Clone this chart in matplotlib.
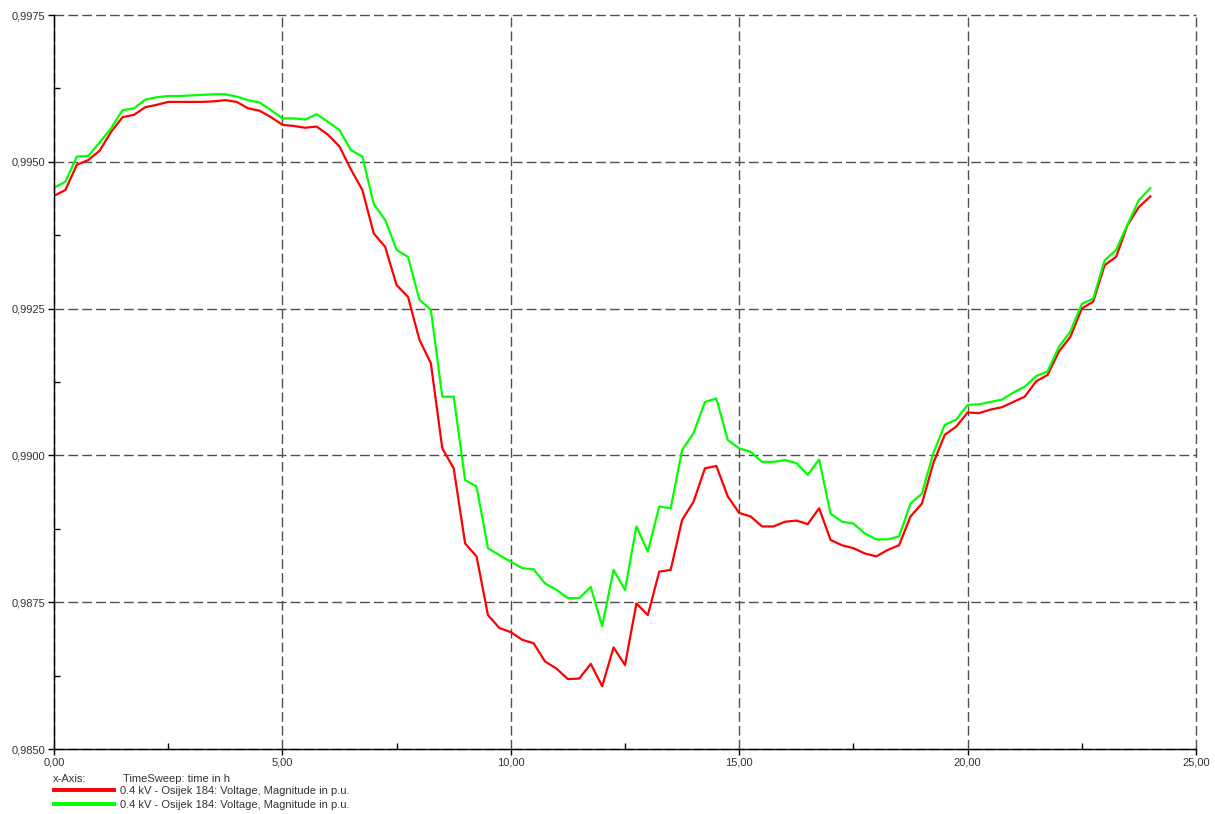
import numpy as np
import matplotlib
matplotlib.use("Agg")
import matplotlib.pyplot as plt
from matplotlib.ticker import MultipleLocator, FuncFormatter

# time in h, 15 min steps
hours = np.arange(0, 24.01, 0.25)

u_red = [
    0.99442, 0.99452, 0.99495, 0.99503, 0.99519, 0.99551, 0.99576, 0.99580,
    0.99593, 0.99597, 0.99602, 0.99602, 0.99602, 0.99602, 0.99603, 0.99605,
    0.99602, 0.99591, 0.99587, 0.99576, 0.99563, 0.99561, 0.99558, 0.99560,
    0.99546, 0.99526, 0.99487, 0.99452, 0.99378, 0.99355, 0.99290, 0.99270,
    0.99197, 0.99157, 0.99012, 0.98978, 0.98850, 0.98828, 0.98728, 0.98706,
    0.98699, 0.98686, 0.98680, 0.98649, 0.98637, 0.98619, 0.98620, 0.98645,
    0.98607, 0.98673, 0.98643, 0.98748, 0.98728, 0.98802, 0.98805, 0.98890,
    0.98921, 0.98978, 0.98982, 0.98930, 0.98902, 0.98896, 0.98879, 0.98879,
    0.98887, 0.98889, 0.98883, 0.98910, 0.98856, 0.98847, 0.98842, 0.98833,
    0.98828, 0.98839, 0.98847, 0.98896, 0.98918, 0.98987, 0.99035, 0.99049,
    0.99073, 0.99072, 0.99078, 0.99082, 0.99091, 0.99100, 0.99126, 0.99137,
    0.99177, 0.99202, 0.99250, 0.99262, 0.99324, 0.99338, 0.99392, 0.99423,
    0.99441,
]

u_green = [
    0.99456, 0.99466, 0.99509, 0.99510, 0.99533, 0.99557, 0.99588, 0.99591,
    0.99606, 0.99610, 0.99612, 0.99612, 0.99613, 0.99614, 0.99615, 0.99615,
    0.99611, 0.99605, 0.99601, 0.99588, 0.99574, 0.99574, 0.99572, 0.99581,
    0.99568, 0.99554, 0.99520, 0.99509, 0.99428, 0.99401, 0.99350, 0.99338,
    0.99265, 0.99248, 0.99100, 0.99100, 0.98958, 0.98947, 0.98842, 0.98830,
    0.98819, 0.98808, 0.98806, 0.98782, 0.98771, 0.98757, 0.98757, 0.98776,
    0.98709, 0.98805, 0.98771, 0.98879, 0.98836, 0.98913, 0.98910, 0.99009,
    0.99038, 0.99091, 0.99097, 0.99026, 0.99012, 0.99006, 0.98989, 0.98989,
    0.98992, 0.98987, 0.98967, 0.98993, 0.98901, 0.98887, 0.98884, 0.98867,
    0.98857, 0.98857, 0.98862, 0.98918, 0.98935, 0.99004, 0.99052, 0.99061,
    0.99086, 0.99087, 0.99091, 0.99095, 0.99107, 0.99117, 0.99135, 0.99143,
    0.99185, 0.99211, 0.99258, 0.99267, 0.99332, 0.99350, 0.99393, 0.99435,
    0.99455,
]

label = "0.4 kV - Osijek 184: Voltage, Magnitude in p.u."

plt.rcParams["font.family"] = ["Liberation Sans", "DejaVu Sans"]
plt.rcParams["font.size"] = 8

fig = plt.figure(figsize=(12.15, 8.14), dpi=100)
ax = fig.add_axes([54 / 1215, 1 - 749 / 814, (1196 - 54) / 1215, (749 - 15) / 814])

l1, = ax.plot(hours, u_red, color="#ff0000", lw=1.6, label=label)
l2, = ax.plot(hours, u_green, color="#00ff00", lw=1.6, label=label)

ax.set_xlim(0, 25)
ax.set_ylim(0.9850, 0.9975)
ax.xaxis.set_major_locator(MultipleLocator(5))
ax.xaxis.set_minor_locator(MultipleLocator(2.5))
ax.yaxis.set_major_locator(MultipleLocator(0.0025))
ax.yaxis.set_minor_locator(MultipleLocator(0.00125))
ax.xaxis.set_major_formatter(FuncFormatter(lambda v, p: f"{v:.2f}".replace(".", ",")))
ax.yaxis.set_major_formatter(FuncFormatter(lambda v, p: f"{v:.4f}".replace(".", ",")))

ax.grid(which="major", color="#505050", lw=1.0, linestyle=(0, (7, 3)))
for gl in ax.get_xgridlines() + ax.get_ygridlines():
    gl.set_clip_on(False)
ax.tick_params(which="major", direction="out", length=4, width=1, colors="#000000",
               labelcolor="#333333", labelsize=8, pad=2)
ax.tick_params(which="minor", direction="in", length=4, width=1, colors="#000000")
for s in ("top", "right"):
    ax.spines[s].set_visible(False)
for s in ("left", "bottom"):
    ax.spines[s].set_linewidth(1.0)
    ax.spines[s].set_color("#000000")
    ax.spines[s].set_zorder(3)

# legend block under the plot
fig.text(53 / 1215, 1 - 779 / 814, "x-Axis:", fontsize=8, color="#333333", va="center")
fig.text(123 / 1215, 1 - 779 / 814, "TimeSweep: time in h", fontsize=8, color="#333333", va="center")
leg = fig.legend(handles=[l1, l2], loc="upper left",
                 bbox_to_anchor=(54 / 1215, 1 - 786 / 814),
                 frameon=False, fontsize=8, handlelength=5.4, handletextpad=0.5,
                 labelspacing=0.35, borderaxespad=0, borderpad=0)
for ln in leg.get_lines():
    ln.set_linewidth(2.8)
for t in leg.get_texts():
    t.set_color("#333333")

fig.savefig("out.png", dpi=100)
